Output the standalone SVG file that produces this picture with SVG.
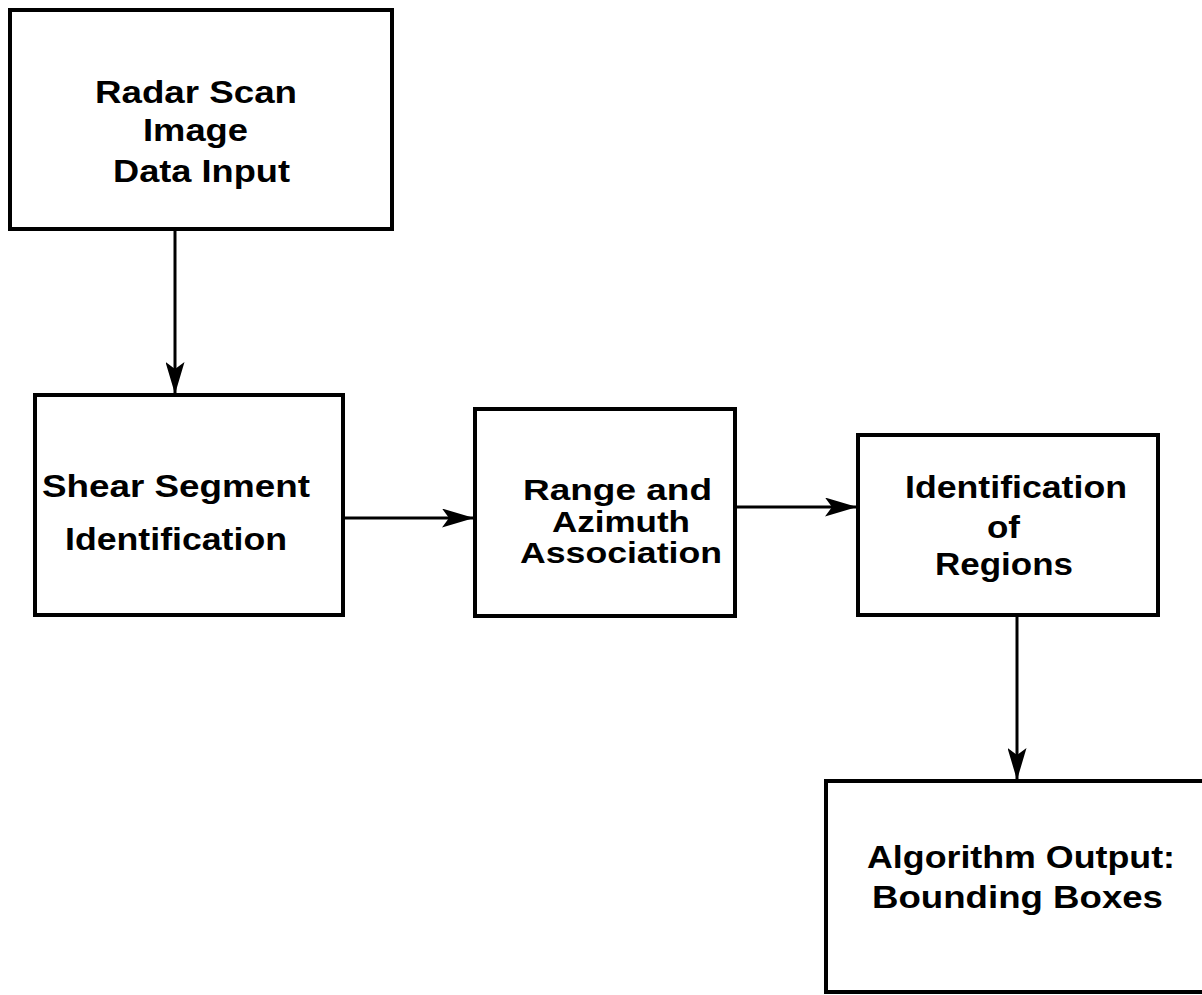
<svg xmlns="http://www.w3.org/2000/svg" width="1202" height="995" viewBox="0 0 1202 995">
  <style>
    .box { fill: #fff; stroke: #000; stroke-width: 4; }
    .link { fill: none; stroke: #000; stroke-width: 3; }
    .label { font-family: "Liberation Sans", Arial, sans-serif; font-weight: bold; font-size: 31px; fill: #000; }
    .tight { font-size: 30px; }
  </style>
  <defs>
    <marker id="head" viewBox="0 0 32 19" refX="32" refY="9.5" markerWidth="32" markerHeight="19" markerUnits="userSpaceOnUse" orient="auto">
      <path d="M0,0 L32,9.5 L0,19 L7,9.5 Z" fill="#000"/>
    </marker>
  </defs>
  <rect width="1202" height="995" fill="#fff"/>

  <g id="connectors">
    <line class="link" x1="175" y1="229" x2="175" y2="394" marker-end="url(#head)"/>
    <line class="link" x1="343" y1="518" x2="474" y2="518" marker-end="url(#head)"/>
    <line class="link" x1="735" y1="507" x2="857" y2="507" marker-end="url(#head)"/>
    <line class="link" x1="1017" y1="615" x2="1017" y2="780" marker-end="url(#head)"/>
  </g>

  <g id="radar-input">
    <rect class="box" x="10" y="10" width="382" height="219"/>
    <text class="label" x="95" y="103" textLength="202" lengthAdjust="spacingAndGlyphs">Radar Scan</text>
    <text class="label" x="143" y="141" textLength="105" lengthAdjust="spacingAndGlyphs">Image</text>
    <text class="label" x="113" y="182" textLength="177" lengthAdjust="spacingAndGlyphs">Data Input</text>
  </g>

  <g id="shear-segment">
    <rect class="box" x="35" y="395" width="308" height="220"/>
    <text class="label" x="42" y="497" textLength="268" lengthAdjust="spacingAndGlyphs">Shear Segment</text>
    <text class="label" x="65" y="550" textLength="222" lengthAdjust="spacingAndGlyphs">Identification</text>
  </g>

  <g id="range-azimuth">
    <rect class="box" x="475" y="409" width="260" height="207"/>
    <text class="label tight" x="523" y="500" textLength="189" lengthAdjust="spacingAndGlyphs">Range and</text>
    <text class="label tight" x="552" y="532" textLength="138" lengthAdjust="spacingAndGlyphs">Azimuth</text>
    <text class="label tight" x="520" y="563" textLength="202" lengthAdjust="spacingAndGlyphs">Association</text>
  </g>

  <g id="regions">
    <rect class="box" x="858" y="435" width="300" height="180"/>
    <text class="label" x="905" y="498" textLength="222" lengthAdjust="spacingAndGlyphs">Identification</text>
    <text class="label" x="987" y="538" textLength="33" lengthAdjust="spacingAndGlyphs">of</text>
    <text class="label" x="935" y="575" textLength="138" lengthAdjust="spacingAndGlyphs">Regions</text>
  </g>

  <g id="output">
    <path class="box" d="M1204,781 L826,781 L826,992 L1204,992"/>
    <text class="label" x="867" y="868" textLength="308" lengthAdjust="spacingAndGlyphs">Algorithm Output:</text>
    <text class="label" x="872" y="908" textLength="291" lengthAdjust="spacingAndGlyphs">Bounding Boxes</text>
  </g>
</svg>
